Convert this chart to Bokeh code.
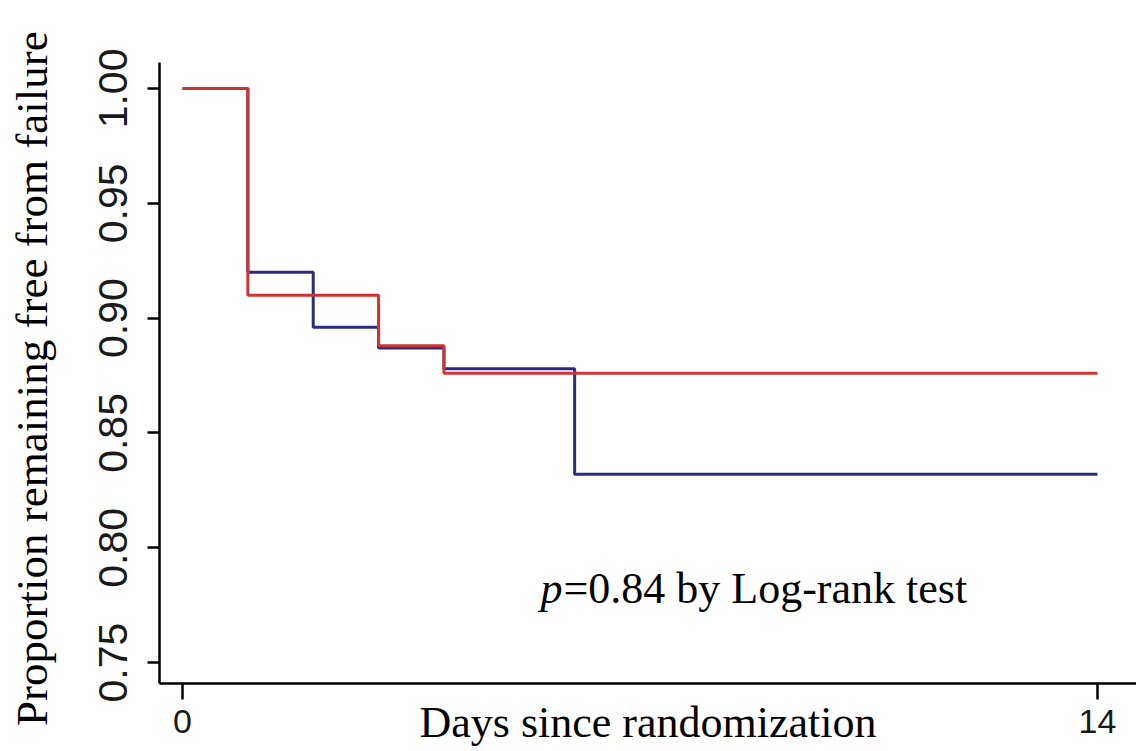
from bokeh.plotting import figure
from bokeh.models import Label, FixedTicker
from bokeh.embed import file_html
from bokeh.resources import INLINE

# ---- data ----
days_red = [0, 1, 3, 4, 14]
surv_red = [1.000, 0.910, 0.888, 0.876, 0.876]

days_blue = [0, 1, 2, 3, 4, 6, 14]
surv_blue = [1.000, 0.920, 0.896, 0.887, 0.878, 0.832, 0.832]

x_ticks = [0, 14]
y_ticks = [0.75, 0.80, 0.85, 0.90, 0.95, 1.00]
y_tick_labels = {0.75: "0.75", 0.80: "0.80", 0.85: "0.85", 0.90: "0.90", 0.95: "0.95", 1.00: "1.00"}

x_title = "Days since randomization"
y_title = "Proportion  remaining free from failure"
p_italic = "p"
p_rest = "=0.84 by Log-rank test"

RED = "#cf3434"
BLUE = "#2b2d84"

p = figure(width=1136, height=751, output_backend="svg", toolbar_location=None,
           x_range=(-0.352, 14.597), y_range=(0.7409, 1.0113),
           min_border_left=159, min_border_top=62, min_border_bottom=68, min_border_right=0)
p.outline_line_color = None
p.xgrid.visible = False
p.ygrid.visible = False
p.background_fill_color = "white"
p.border_fill_color = "white"

p.step(days_blue, surv_blue, mode="after", line_color=BLUE, line_width=3)
p.step(days_red, surv_red, mode="after", line_color=RED, line_width=3)

# axes
xa = p.xaxis[0]
xa.ticker = FixedTicker(ticks=x_ticks)
xa.minor_tick_line_color = None
xa.major_tick_in = 0
xa.major_tick_out = 16
xa.major_tick_line_width = 2.5
xa.axis_line_width = 2.5
xa.axis_line_color = "black"
xa.major_label_text_font = "Liberation Sans"
xa.major_label_text_font_size = "34px"
xa.major_label_text_color = "#1a1a1a"
xa.major_label_standoff = 10
xa.axis_label = x_title
xa.axis_label_text_font = "Liberation Serif"
xa.axis_label_text_font_style = "normal"
xa.axis_label_text_font_size = "44px"
xa.axis_label_text_color = "black"
xa.axis_label_standoff = -38

ya = p.yaxis[0]
ya.ticker = FixedTicker(ticks=y_ticks)
ya.major_label_overrides = y_tick_labels
ya.minor_tick_line_color = None
ya.major_tick_in = 0
ya.major_tick_out = 12
ya.major_tick_line_width = 2.5
ya.axis_line_width = 2.5
ya.axis_line_color = "black"
ya.major_label_orientation = "vertical"
ya.major_label_text_font = "Liberation Sans"
ya.major_label_text_font_size = "41px"
ya.major_label_text_color = "#1a1a1a"
ya.major_label_standoff = 20
ya.axis_label = y_title
ya.axis_label_text_font = "Liberation Serif"
ya.axis_label_text_font_style = "normal"
ya.axis_label_text_font_size = "45px"
ya.axis_label_text_color = "black"
ya.axis_label_standoff = 40

# p-value annotation
p.add_layout(Label(x=381, y=95, x_units="screen", y_units="screen", text=p_italic,
                   text_font="Liberation Serif", text_font_style="italic", text_font_size="44px",
                   text_color="black", text_align="left", text_baseline="alphabetic"))
p.add_layout(Label(x=404, y=95, x_units="screen", y_units="screen", text=p_rest,
                   text_font="Liberation Serif", text_font_size="44px",
                   text_color="black", text_align="left", text_baseline="alphabetic"))

open("out.html", "w").write(file_html(p, INLINE))
